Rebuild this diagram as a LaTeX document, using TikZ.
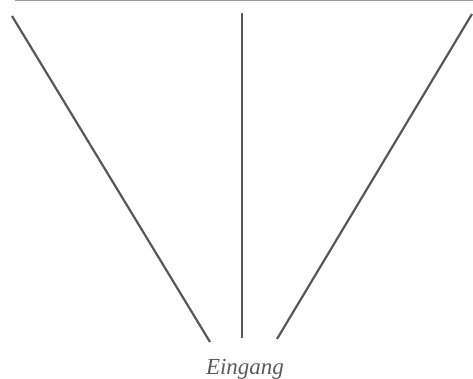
\documentclass[tikz,border=0pt]{standalone}
\usepackage{fontspec}
\setmainfont{Liberation Serif}
\definecolor{ink}{HTML}{585858}
\definecolor{txt}{HTML}{5A5A5A}
\begin{document}
\begin{tikzpicture}[x=1pt,y=-1pt,
  wall/.style={draw=ink,line width=2.2pt},
  lbl/.style={text=txt,font=\itshape\fontsize{23}{26}\selectfont,inner sep=0pt}]
\useasboundingbox (0,0) rectangle (473,379);
\draw[draw=ink!60,line width=1.2pt] (15,0.6) -- (473,0.6);
\coordinate (l1) at (12,16);
\coordinate (l2) at (210,342);
\coordinate (m1) at (242,13);
\coordinate (m2) at (242,338);
\coordinate (r1) at (472,14);
\coordinate (r2) at (277,339);
\draw[wall] (l1) -- (l2);
\draw[wall] (m1) -- (m2);
\draw[wall] (r1) -- (r2);
\node[lbl,anchor=base] (e) at (245,374) {Eingang};
\end{tikzpicture}
\end{document}
